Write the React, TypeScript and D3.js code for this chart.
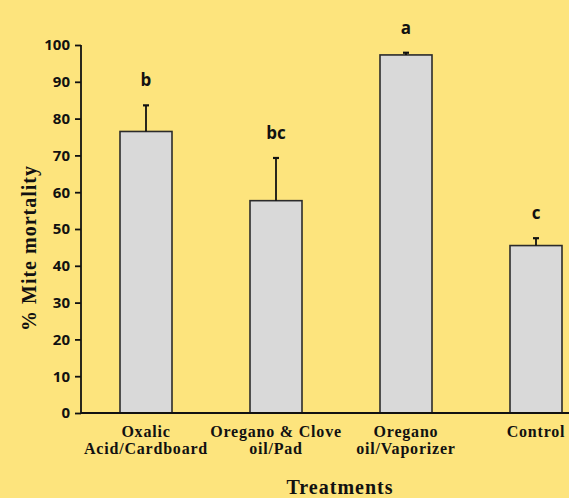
import React, { useEffect, useRef } from 'react';
import * as d3 from 'd3';

const categories = [
  ['Oxalic', 'Acid/Cardboard'],
  ['Oregano & Clove', 'oil/Pad'],
  ['Oregano', 'oil/Vaporizer'],
  ['Control'],
];
const means = [76.5, 57.7, 97.3, 45.5];
const errors = [7.1, 11.6, 0.6, 2.0];
const letters = ['b', 'bc', 'a', 'c'];
const yTicks = [0, 10, 20, 30, 40, 50, 60, 70, 80, 90, 100];

const App = () => {
  const ref = useRef<SVGSVGElement>(null);

  useEffect(() => {
    document.body.style.margin = '0';
    document.body.style.overflow = 'hidden';

    const width = 569;
    const height = 498;
    const svg = d3.select(ref.current);
    svg.selectAll('*').remove();

    svg.append('rect').attr('width', width).attr('height', height).attr('fill', '#FDE47D');

    const x = d3
      .scaleBand<number>()
      .domain(categories.map((_, i) => i))
      .range([81, 601])
      .paddingInner(0.6)
      .paddingOuter(0.3);

    const y = d3.scaleLinear().domain([0, 100]).range([413, 45]);

    // bars
    svg
      .selectAll('rect.bar')
      .data(means)
      .enter()
      .append('rect')
      .attr('class', 'bar')
      .attr('x', (_, i) => x(i)!)
      .attr('y', d => y(d))
      .attr('width', x.bandwidth())
      .attr('height', d => y(0) - y(d))
      .attr('fill', '#D9D9D9')
      .attr('stroke', '#2b2b2b')
      .attr('stroke-width', 1.6);

    // error bars + letters
    const eb = svg.append('g');
    means.forEach((m, i) => {
      const cx = x(i)! + x.bandwidth() / 2;
      eb.append('line')
        .attr('x1', cx).attr('x2', cx)
        .attr('y1', y(m)).attr('y2', y(m + errors[i]))
        .attr('stroke', '#111').attr('stroke-width', 1.8);
      eb.append('line')
        .attr('x1', cx - 3).attr('x2', cx + 3)
        .attr('y1', y(m + errors[i])).attr('y2', y(m + errors[i]))
        .attr('stroke', '#111').attr('stroke-width', 2.2);
      svg.append('text')
        .attr('x', cx)
        .attr('y', y(m + errors[i]) - 19)
        .attr('text-anchor', 'middle')
        .attr('font-family', 'Open Sans, sans-serif')
        .attr('font-weight', 'bold')
        .attr('font-size', 17)
        .attr('fill', '#111')
        .text(letters[i]);
    });

    // y axis
    const yAxis = svg
      .append('g')
      .attr('transform', 'translate(81,0)')
      .call(d3.axisLeft(y).tickValues(yTicks).tickSize(6).tickPadding(5));
    yAxis.select('.domain').attr('stroke', '#111').attr('stroke-width', 1.8).attr('d', `M0,${y(100)}V${y(0)}`);
    yAxis.selectAll('.tick line').attr('stroke', '#111').attr('stroke-width', 1.8);
    yAxis
      .selectAll('.tick text')
      .attr('font-family', 'Open Sans, sans-serif')
      .attr('font-weight', 'bold')
      .attr('font-size', 15)
      .attr('fill', '#111');

    // x axis line
    svg.append('line')
      .attr('x1', 81).attr('x2', 569)
      .attr('y1', y(0)).attr('y2', y(0))
      .attr('stroke', '#111').attr('stroke-width', 1.8);

    // category labels
    categories.forEach((lines, i) => {
      const cx = x(i)! + x.bandwidth() / 2;
      lines.forEach((t, j) => {
        svg.append('text')
          .attr('x', cx)
          .attr('y', 437 + j * 17)
          .attr('text-anchor', 'middle')
          .attr('font-family', 'Liberation Serif, serif')
          .attr('font-weight', 'bold')
          .attr('font-size', 16)
          .attr('letter-spacing', 0.8)
          .attr('fill', '#111')
          .text(t);
      });
    });

    svg.append('text')
      .attr('x', 340)
      .attr('y', 494)
      .attr('text-anchor', 'middle')
      .attr('font-family', 'Liberation Serif, serif')
      .attr('font-weight', 'bold')
      .attr('font-size', 20)
      .attr('letter-spacing', 1)
      .attr('fill', '#111')
      .text('Treatments');

    svg.append('text')
      .attr('transform', `translate(36,${(y(0) + y(100)) / 2 + 19}) rotate(-90)`)
      .attr('text-anchor', 'middle')
      .attr('font-family', 'Liberation Serif, serif')
      .attr('font-weight', 'bold')
      .attr('font-size', 20)
      .attr('letter-spacing', 1)
      .attr('fill', '#111')
      .text('% Mite mortality');
  }, []);

  return (
    <div>
      <svg ref={ref} width={569} height={498} style={{ display: 'block' }}></svg>
    </div>
  );
};

export default App;
